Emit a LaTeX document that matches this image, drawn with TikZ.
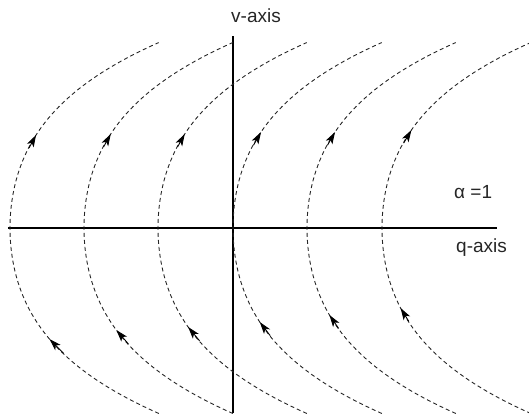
\documentclass[tikz,border=0pt]{standalone}
\usepackage{fontspec}
\setmainfont{Liberation Sans}
\usetikzlibrary{arrows.meta}

\tikzset{
  flowline/.style={black!85, line width=0.9pt, dash pattern=on 4pt off 3pt},
  flowtip/.style={-{Stealth[length=12pt,width=7.5pt,inset=3pt]}, black, line width=0.9pt},
  axisline/.style={black, line width=1.6pt},
  axislabel/.style={font=\fontsize{19}{22}\selectfont, text=black!85, inner sep=0pt, anchor=base west},
}

\begin{document}
\begin{tikzpicture}[x=1pt,y=1pt]
  \useasboundingbox (-233,-190) rectangle (296,228);
  \clip (-233,-190) rectangle (296,228);

  % axes
  \coordinate (qleft) at (-225,0);
  \coordinate (qright) at (264,0);
  \coordinate (vbot) at (0,-185);
  \coordinate (vtop) at (0,192);
  \draw[axisline] (qleft) -- (qright);
  \draw[axisline] (vbot) -- (vtop);

  \node[axislabel] (vlabel) at (-2,205) {v-axis};
  \node[axislabel] (qlabel) at (223,-24) {q-axis};
  \node[axislabel] (alpha) at (221,30) {α =1};

  % trajectories, all running upward
  \foreach \q/\lo/\up in {
    -223/-1.11/0.93,
    -149/-1.02/0.94,
    -75/-0.99/0.94,
    0/-0.94/0.96,
    74/-0.87/0.96,
    149/-0.80/0.98
  } {
    \draw[flowline] plot[variable=\t, domain=-1.855:1.855, samples=80, smooth]
      ({\q+25.76*\t*\t+5.086*(\t*\t)*(\t*\t)}, {100*\t});
    \foreach \s in {\lo,\up} {
      \pgfmathsetmacro{\sa}{\s-0.2}
      \coordinate (tail) at ({\q+25.76*\sa*\sa+5.086*(\sa*\sa)*(\sa*\sa)}, {100*\sa});
      \coordinate (head) at ({\q+25.76*\s*\s+5.086*(\s*\s)*(\s*\s)}, {100*\s});
      \draw[flowtip, shorten <=8pt] (tail) -- (head);
    }
  }
\end{tikzpicture}
\end{document}
